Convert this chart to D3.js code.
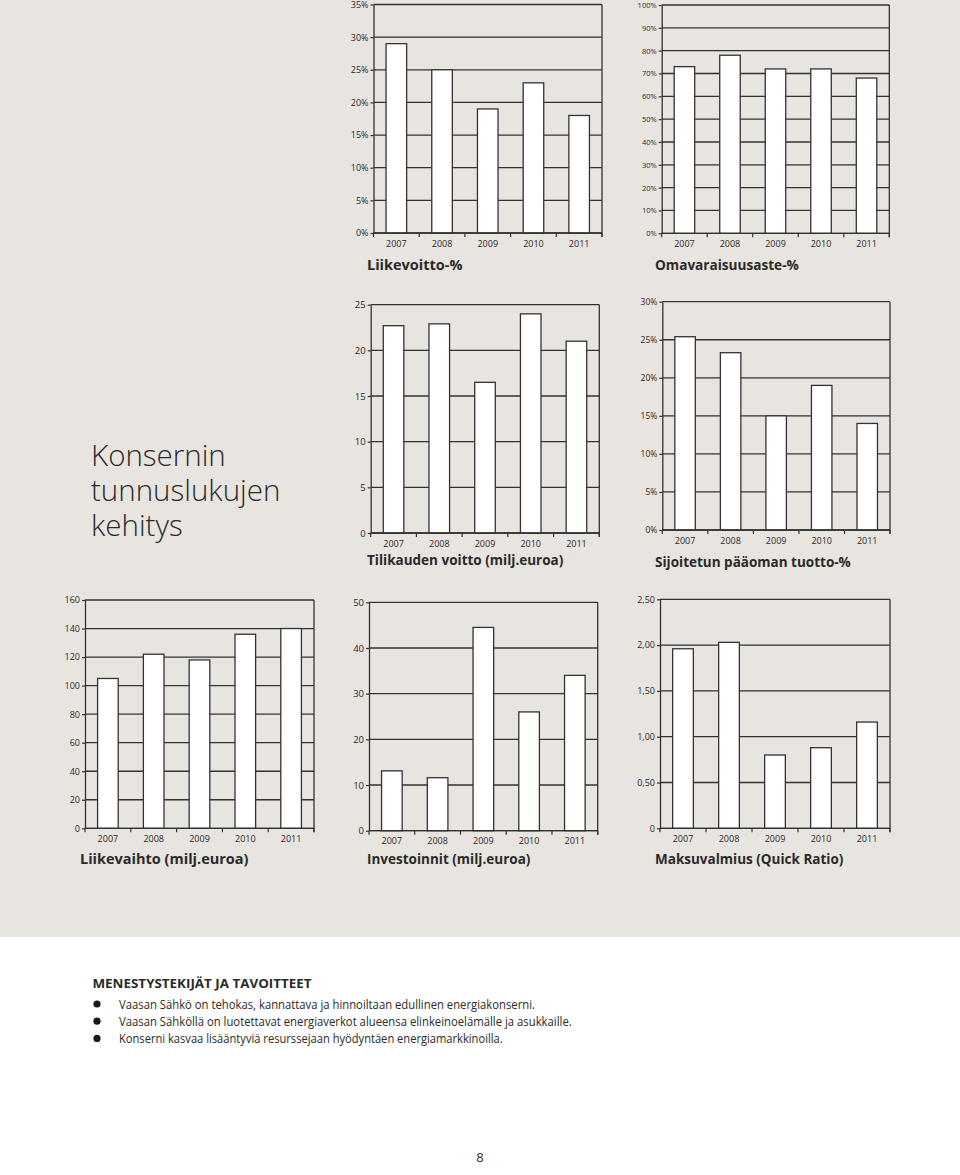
<!DOCTYPE html>
<html>
<head>
<meta charset="utf-8">
<script src="https://cdn.jsdelivr.net/npm/d3@7"></script>
<style>
  html, body { margin: 0; padding: 0; background: #ffffff; }
  svg { display: block; }
  text { font-family: "Open Sans", "Noto Sans", sans-serif; fill: #2a2a2a; }
</style>
</head>
<body>
<svg id="page" width="960" height="1175"></svg>
<script>
// ---------------- DATA ----------------
const years = ["2007", "2008", "2009", "2010", "2011"];

const liikevoitto      = [29, 25, 19, 23, 18];              // %
const omavaraisuusaste = [73, 78, 72, 72, 68];              // %
const tilikaudenVoitto = [22.7, 22.9, 16.5, 24.0, 21.0];    // milj. euroa
const sijoitetunTuotto = [25.4, 23.3, 15.0, 19.0, 14.0];    // %
const liikevaihto      = [105, 122, 118, 136, 140];         // milj. euroa
const investoinnit     = [13.1, 11.6, 44.5, 26.0, 34.0];    // milj. euroa
const maksuvalmius     = [1.96, 2.03, 0.80, 0.88, 1.16];    // quick ratio

const ticksLiikevoitto      = [0, 5, 10, 15, 20, 25, 30, 35];
const ticksOmavaraisuus     = [0, 10, 20, 30, 40, 50, 60, 70, 80, 90, 100];
const ticksTilikaudenVoitto = [0, 5, 10, 15, 20, 25];
const ticksSijoitetun       = [0, 5, 10, 15, 20, 25, 30];
const ticksLiikevaihto      = [0, 20, 40, 60, 80, 100, 120, 140, 160];
const ticksInvestoinnit     = [0, 10, 20, 30, 40, 50];
const ticksMaksuvalmius     = [0, 0.5, 1.0, 1.5, 2.0, 2.5];

const titles = [
  "Liikevoitto-%",
  "Omavaraisuusaste-%",
  "Tilikauden voitto (milj.euroa)",
  "Sijoitetun pääoman tuotto-%",
  "Liikevaihto (milj.euroa)",
  "Investoinnit (milj.euroa)",
  "Maksuvalmius (Quick Ratio)"
];

const pageTitleLines = ["Konsernin", "tunnuslukujen", "kehitys"];
const sectionHeading = "MENESTYSTEKIJÄT JA TAVOITTEET";
const bullets = [
  "Vaasan Sähkö on tehokas, kannattava ja hinnoiltaan edullinen energiakonserni.",
  "Vaasan Sähköllä on luotettavat energiaverkot alueensa elinkeinoelämälle ja asukkaille.",
  "Konserni kasvaa lisääntyviä resurssejaan hyödyntäen energiamarkkinoilla."
];
const pageNumber = "8";

// ---------------- FORMATS ----------------
const pct = v => v + "%";
const plain = v => String(v);
const fiDec = v => v === 0 ? "0" : d3.format(".2f")(v).replace(".", ",");

// ---------------- LAYOUT ----------------
const charts = [
  { values: liikevoitto,      ticks: ticksLiikevoitto,      fmt: pct,   title: titles[0], x0: 373.5, x1: 602,   yTop: 4.5,   yBot: 233,   titleX: 367, titleY: 269.5, tickFont: 9,   titleFont: 14.5 },
  { values: omavaraisuusaste, ticks: ticksOmavaraisuus,     fmt: pct,   title: titles[1], x0: 661.7, x1: 889.3, yTop: 5,     yBot: 233.3, titleX: 655, titleY: 269.5, tickFont: 7.5, titleFont: 13.6 },
  { values: tilikaudenVoitto, ticks: ticksTilikaudenVoitto, fmt: plain, title: titles[2], x0: 370.7, x1: 599.3, yTop: 304.7, yBot: 533,   titleX: 367, titleY: 565,   tickFont: 9.5, titleFont: 13.5 },
  { values: sijoitetunTuotto, ticks: ticksSijoitetun,       fmt: pct,   title: titles[3], x0: 662.3, x1: 890,   yTop: 301.7, yBot: 530,   titleX: 655, titleY: 566.5, tickFont: 8.5, titleFont: 13.5 },
  { values: liikevaihto,      ticks: ticksLiikevaihto,      fmt: plain, title: titles[4], x0: 85,    x1: 314,   yTop: 600,   yBot: 828.3, titleX: 80,  titleY: 863.5, tickFont: 9,   titleFont: 14.5 },
  { values: investoinnit,     ticks: ticksInvestoinnit,     fmt: plain, title: titles[5], x0: 369,   x1: 597.7, yTop: 602.3, yBot: 830.7, titleX: 367, titleY: 864,   tickFont: 9.5, titleFont: 13.5 },
  { values: maksuvalmius,     ticks: ticksMaksuvalmius,     fmt: fiDec, title: titles[6], x0: 660,   x1: 890,   yTop: 599.3, yBot: 828.3, titleX: 655, titleY: 864,   tickFont: 9,   titleFont: 13.5 }
];

const svg = d3.select("#page");
const BG = "#e8e4df";
const INK = "#333333";

// background panels
svg.append("rect").attr("x", 0).attr("y", 0).attr("width", 960).attr("height", 937).attr("fill", BG);
svg.append("rect").attr("x", 0).attr("y", 937).attr("width", 960).attr("height", 238).attr("fill", "#ffffff");

// ---------------- CHARTS ----------------
charts.forEach(c => {
  const g = svg.append("g");
  const x = d3.scaleBand().domain(years).range([c.x0, c.x1]).paddingInner(0.55).paddingOuter(0.275);
  const y = d3.scaleLinear().domain([0, d3.max(c.ticks)]).range([c.yBot, c.yTop]);

  // gridlines
  g.selectAll("line.grid").data(c.ticks).join("line")
    .attr("class", "grid")
    .attr("x1", c.x0).attr("x2", c.x1)
    .attr("y1", d => y(d)).attr("y2", d => y(d))
    .attr("stroke", INK).attr("stroke-width", 1.3);

  // right frame
  g.append("line")
    .attr("x1", c.x1).attr("x2", c.x1)
    .attr("y1", y(d3.max(c.ticks))).attr("y2", c.yBot + 4)
    .attr("stroke", INK).attr("stroke-width", 1.3);

  // bars
  g.selectAll("rect.bar").data(c.values).join("rect")
    .attr("class", "bar")
    .attr("x", (d, i) => x(years[i]))
    .attr("width", x.bandwidth())
    .attr("y", d => y(d))
    .attr("height", d => c.yBot - y(d))
    .attr("fill", "#ffffff")
    .attr("stroke", INK).attr("stroke-width", 1.3);

  // y axis
  const yAxis = d3.axisLeft(y).tickValues(c.ticks).tickFormat(c.fmt).tickSizeInner(3).tickSizeOuter(0).tickPadding(2);
  const ya = g.append("g").attr("transform", `translate(${c.x0},0)`).call(yAxis);
  ya.select(".domain").attr("stroke", INK).attr("stroke-width", 1.3);
  ya.selectAll(".tick line").attr("stroke", INK).attr("stroke-width", 1.2);
  ya.selectAll(".tick text").style("font-size", c.tickFont + "px").attr("fill", "#2a2a2a");

  // baseline + boundary ticks
  g.append("line").attr("x1", c.x0).attr("x2", c.x1).attr("y1", c.yBot).attr("y2", c.yBot)
    .attr("stroke", INK).attr("stroke-width", 1.3);
  const bounds = d3.range(years.length + 1).map(i => c.x0 + i * x.step());
  g.selectAll("line.xt").data(bounds).join("line")
    .attr("class", "xt")
    .attr("x1", d => d).attr("x2", d => d)
    .attr("y1", c.yBot).attr("y2", c.yBot + 4)
    .attr("stroke", INK).attr("stroke-width", 1.2);

  // x labels
  const xAxis = d3.axisBottom(x).tickSize(0).tickPadding(0);
  const xa = g.append("g").attr("transform", `translate(0,${c.yBot})`).call(xAxis);
  xa.select(".domain").remove();
  xa.selectAll(".tick text").attr("y", 13.5).attr("dy", null)
    .style("font-size", "9px").attr("fill", "#2a2a2a");

  // title
  g.append("text")
    .attr("x", c.titleX).attr("y", c.titleY)
    .style("font-size", c.titleFont + "px").style("font-weight", 700)
    .attr("fill", "#111")
    .text(c.title);
});

// ---------------- PAGE TITLE ----------------
svg.append("g").selectAll("text").data(pageTitleLines).join("text")
  .attr("x", 91)
  .attr("y", (d, i) => 466 + i * 35)
  .style("font-size", "29.5px").style("font-weight", 300)
  .attr("fill", "#1a1a1a")
  .text(d => d);

// ---------------- TEXT SECTION ----------------
svg.append("text")
  .attr("x", 92.5).attr("y", 987.5)
  .style("font-size", "13px").style("font-weight", 700)
  .attr("fill", "#1a1a1a")
  .attr("textLength", 219).attr("lengthAdjust", "spacingAndGlyphs")
  .text(sectionHeading);

const bulletWidths = [416, 452.7, 383.7];
const bg = svg.append("g");
bg.selectAll("circle").data(bullets).join("circle")
  .attr("cx", 97).attr("cy", (d, i) => 1004 + i * 17.2).attr("r", 3.6).attr("fill", "#1a1a1a");
bg.selectAll("text").data(bullets).join("text")
  .attr("x", 119).attr("y", (d, i) => 1008.5 + i * 17.2)
  .style("font-size", "12.5px")
  .attr("fill", "#1a1a1a")
  .attr("textLength", (d, i) => bulletWidths[i]).attr("lengthAdjust", "spacingAndGlyphs")
  .text(d => d);

svg.append("text")
  .attr("x", 480).attr("y", 1162).attr("text-anchor", "middle")
  .style("font-size", "13px").attr("fill", "#333")
  .text(pageNumber);
</script>
</body>
</html>
